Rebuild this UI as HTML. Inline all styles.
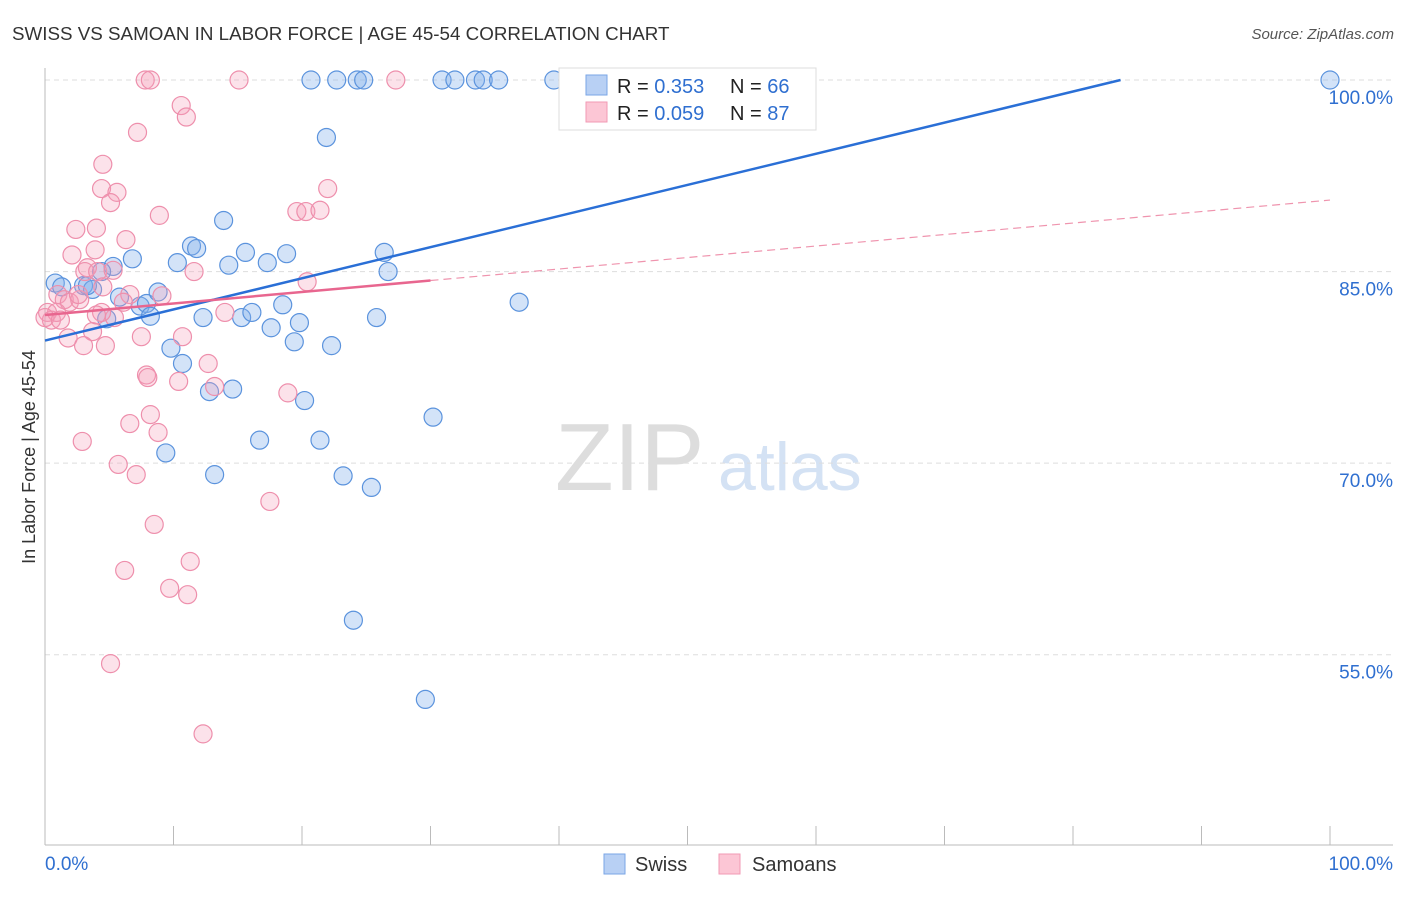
<!DOCTYPE html>
<html><head><meta charset="utf-8"><style>
body{margin:0;background:#fff;font-family:"Liberation Sans",sans-serif}
svg text{font-family:"Liberation Sans",sans-serif}
</style></head><body>
<svg id="c" width="1406" height="892" viewBox="0 0 1406 892" xmlns="http://www.w3.org/2000/svg">
<text x="12" y="40" font-size="18.8" fill="#333">SWISS VS SAMOAN IN LABOR FORCE | AGE 45-54 CORRELATION CHART</text>
<text x="1394" y="39" font-size="15" fill="#555" font-style="italic" text-anchor="end">Source: ZipAtlas.com</text>
<text x="35" y="457" font-size="18" fill="#333" text-anchor="middle" transform="rotate(-90 35 457)">In Labor Force | Age 45-54</text>
<text x="555" y="490" font-size="96" fill="#ddd" font-family="Liberation Serif">ZIP</text>
<text x="718" y="490" font-size="68" fill="#d4e2f4">atlas</text>
<g id="grid"></g><g id="pts"></g><g id="trend"></g>
<g>
<rect x="559" y="68" width="257" height="62" fill="#fff" stroke="#ddd"/>
<rect x="586" y="75" width="21" height="20" fill="#b8d0f4" stroke="#7aa6e6"/>
<rect x="586" y="102" width="21" height="20" fill="#fcc6d5" stroke="#f29ab4"/>
<text x="617" y="93" font-size="20" fill="#222">R = <tspan fill="#2f6fd0">0.353</tspan></text>
<text x="730" y="93" font-size="20" fill="#222">N = <tspan fill="#2f6fd0">66</tspan></text>
<text x="617" y="120" font-size="20" fill="#222">R = <tspan fill="#2f6fd0">0.059</tspan></text>
<text x="730" y="120" font-size="20" fill="#222">N = <tspan fill="#2f6fd0">87</tspan></text>
</g>
<g>
<rect x="604" y="854" width="21" height="20" fill="#b8d0f4" stroke="#7aa6e6"/>
<text x="635" y="871" font-size="20" fill="#333">Swiss</text>
<rect x="719" y="854" width="21" height="20" fill="#fcc6d5" stroke="#f29ab4"/>
<text x="752" y="871" font-size="20" fill="#333">Samoans</text>
</g>
<text x="45" y="870" font-size="19" fill="#2f6fd0">0.0%</text>
<text x="1393" y="870" font-size="19" fill="#2f6fd0" text-anchor="end">100.0%</text>
</svg>
<script>
const yTicks=[100,85,70,55];
const xTicks=[0,10,20,30,40,50,60,70,80,90,100];
const swissX=[20.7,22.7,24.3,24.8,30.9,31.9,33.5,34.1,35.3,39.6,41.4,100,21.9,13.9,11.4,11.8,15.6,17.3,18.8,26.4,26.7,10.3,14.3,6.8,5.3,0.8,1.3,3.0,3.7,4.4,5.8,7.4,7.9,8.2,8.8,12.3,15.3,16.1,17.6,18.5,19.8,19.4,22.3,25.8,36.9,9.8,10.7,12.8,14.6,20.2,30.2,16.7,21.4,9.4,13.2,23.2,25.4,24.0,29.6,4.8,3.3];
const swissY=[100,100,100,100,100,100,100,100,100,100,100,100,95.5,89.0,87.0,86.8,86.5,85.7,86.4,86.5,85.0,85.7,85.5,86.0,85.4,84.1,83.8,83.9,83.6,85.0,83.0,82.3,82.5,81.5,83.4,81.4,81.4,81.8,80.6,82.4,81.0,79.5,79.2,81.4,82.6,79.0,77.8,75.6,75.8,74.9,73.6,71.8,71.8,70.8,69.1,69.0,68.1,57.7,51.5,81.3,83.9];
const samoanX=[7.8,8.2,15.1,27.3,10.6,11.0,7.2,4.5,4.4,5.6,5.1,22.0,19.6,20.3,21.4,8.9,4.0,2.4,6.3,3.9,2.1,3.3,3.1,4.1,5.3,11.6,20.4,9.1,6.6,4.5,6.1,1.0,1.5,1.9,2.7,0.2,0.5,0.9,0.0,1.2,3.7,1.8,3.0,4.7,7.5,10.7,5.4,4.4,12.7,7.9,8.0,10.4,13.2,18.9,8.2,6.6,8.8,2.9,5.7,7.1,17.5,8.5,11.3,6.2,9.7,11.1,5.1,12.3,2.6,4.0,14.0];
const samoanY=[100,100,100,100,98.0,97.1,95.9,93.4,91.5,91.2,90.4,91.5,89.7,89.7,89.8,89.4,88.4,88.3,87.5,86.7,86.3,85.3,85.0,85.0,85.1,85.0,84.2,83.1,83.2,83.8,82.6,83.2,82.8,82.6,82.8,81.8,81.2,81.8,81.4,81.2,80.3,79.8,79.2,79.2,79.9,79.9,81.4,81.8,77.8,76.9,76.7,76.4,76.0,75.5,73.8,73.1,72.4,71.7,69.9,69.1,67.0,65.2,62.3,61.6,60.2,59.7,54.3,48.8,83.2,81.6,81.8];
const swissTrend=[79.6,100]; const swissTrendX=[0,83.7];
const samoanTrend=[81.6,84.3,90.6]; const samoanTrendX=[0,30,100];
const X0=45,X1=1330,Y0=845,Y1=80,YMIN=40.1,YMAX=100;
const sx=v=>X0+(v/100)*(X1-X0);
const sy=v=>Y0-(v-YMIN)/(YMAX-YMIN)*(Y0-Y1);
const NS='http://www.w3.org/2000/svg';
function mk(t,a,p){const e=document.createElementNS(NS,t);for(const k in a)e.setAttribute(k,a[k]);p.appendChild(e);return e;}
const g=document.getElementById('grid');
yTicks.forEach(v=>{const l=mk('line',{x1:X0,x2:1393,y1:sy(v),y2:sy(v),stroke:'#ddd','stroke-dasharray':'5,4'},g);


const t=mk('text',{x:1393,y:sy(v)+24,'font-size':19,fill:'#2f6fd0','text-anchor':'end'},g);t.textContent=v.toFixed(1)+'%';

});
xTicks.forEach(v=>{const l=mk('line',{x1:sx(v),x2:sx(v),y1:826,y2:Y0,stroke:'#bbb'},g);

});
const ax=mk('line',{x1:X0,x2:X0,y1:68,y2:Y0,stroke:'#bbb'},g);


const bx=mk('line',{x1:X0,x2:1393,y1:Y0,y2:Y0,stroke:'#bbb'},g);


const p=document.getElementById('pts');
swissX.forEach((v,i)=>{const c=mk('circle',{cx:sx(v),cy:sy(swissY[i]),r:9,fill:'rgba(130,175,235,0.35)',stroke:'#5b93dd','stroke-width':1.2},p);

});
samoanX.forEach((v,i)=>{const c=mk('circle',{cx:sx(v),cy:sy(samoanY[i]),r:9,fill:'rgba(245,160,185,0.3)',stroke:'#ee8fac','stroke-width':1.2},p);

});
const tr=document.getElementById('trend');
const b=mk('line',{x1:sx(swissTrendX[0]),y1:sy(swissTrend[0]),x2:sx(swissTrendX[1]),y2:sy(swissTrend[1]),stroke:'#2a6fd6','stroke-width':2.5},tr);


const s1=mk('line',{x1:sx(samoanTrendX[0]),y1:sy(samoanTrend[0]),x2:sx(samoanTrendX[1]),y2:sy(samoanTrend[1]),stroke:'#e8668f','stroke-width':2.5},tr);


const s2=mk('line',{x1:sx(samoanTrendX[1]),y1:sy(samoanTrend[1]),x2:sx(samoanTrendX[2]),y2:sy(samoanTrend[2]),stroke:'#ef94ae','stroke-width':1.2,'stroke-dasharray':'8,5'},tr);


</script>
</body></html>
